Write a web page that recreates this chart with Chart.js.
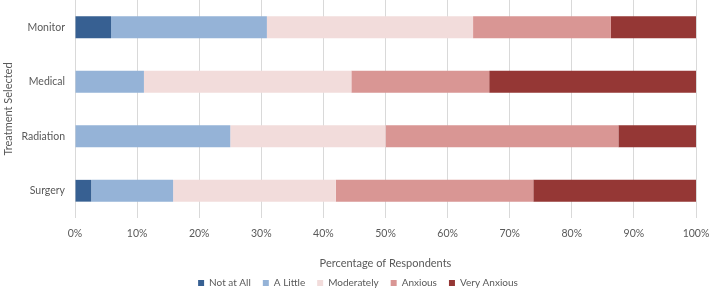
<!DOCTYPE html>
<html>
<head>
<meta charset="utf-8">
<script src="https://cdn.jsdelivr.net/npm/chart.js@4/dist/chart.umd.min.js"></script>
<style>
html,body{margin:0;padding:0;background:#fff;}
#wrap{width:709px;height:289px;}
</style>
</head>
<body>
<div id="wrap"><canvas id="c" width="709" height="289"></canvas></div>
<script>
const categories = ["Monitor", "Medical", "Radiation", "Surgery"];
const seriesNames = ["Not at All", "A Little", "Moderately", "Anxious", "Very Anxious"];
const notAtAll    = [5.8, 0, 0, 2.6];
const aLittle     = [25.1, 11.1, 25.0, 13.2];
const moderately  = [33.2, 33.4, 25.0, 26.2];
const anxious     = [22.2, 22.2, 37.5, 31.8];
const veryAnxious = [13.7, 33.3, 12.5, 26.2];
const xTicks = [0, 10, 20, 30, 40, 50, 60, 70, 80, 90, 100];
const colors = ["#376092", "#95B3D7", "#F2DCDB", "#D99694", "#953735"];

const seriesData = [notAtAll, aLittle, moderately, anxious, veryAnxious];
const FONT = "Lato, 'Open Sans', sans-serif";
const TXT = "#595959";

const shiftLegend = {
  id: 'shiftLegend',
  afterLayout(c) {
    const l = c.legend;
    if (l) { l.left += 10; l.right += 10; if (l.adjustHitBoxes) l.adjustHitBoxes(); }
  }
};

new Chart(document.getElementById('c'), {
  type: 'bar',
  plugins: [shiftLegend],
  data: {
    labels: categories,
    datasets: seriesNames.map((n, i) => ({
      label: n,
      data: seriesData[i],
      backgroundColor: colors[i],
      borderWidth: 0,
      categoryPercentage: 1,
      barPercentage: 0.4
    }))
  },
  options: {
    indexAxis: 'y',
    responsive: false,
    animation: false,
    layout: { padding: { left: 0, right: 13, top: 0, bottom: -9 } },
    plugins: {
      tooltip: { enabled: false },
      legend: {
        position: 'bottom',
        labels: {
          boxWidth: 6, boxHeight: 6, padding: 12,
          color: TXT,
          font: { family: FONT, size: 10 }
        }
      }
    },
    scales: {
      x: {
        stacked: true,
        min: 0, max: 100,
        afterBuildTicks: s => { s.ticks = xTicks.map(v => ({ value: v })); },
        afterFit: s => { s.height = 48; s.paddingLeft = 0; s.paddingRight = 0; },
        ticks: {
          callback: v => v + '%',
          color: TXT,
          font: { family: FONT, size: 10.5 },
          padding: 9,
          maxRotation: 0
        },
        grid: { color: '#D9D9D9', drawTicks: false },
        border: { display: false },
        title: {
          display: true,
          text: 'Percentage of Respondents',
          color: TXT,
          font: { family: FONT, size: 11 },
          padding: { top: 0, bottom: -3.6 }
        }
      },
      y: {
        stacked: true,
        offset: true,
        afterFit: s => { s.width = 75; s.paddingTop = 0; s.paddingBottom = 0; },
        ticks: {
          color: TXT,
          font: { family: FONT, size: 10.5 },
          padding: 10
        },
        grid: { display: false, drawTicks: false },
        border: { display: false },
        title: {
          display: true,
          text: 'Treatment Selected',
          color: TXT,
          font: { family: FONT, size: 11 },
          padding: { top: 2, bottom: 0 }
        }
      }
    }
  }
});
</script>
</body>
</html>
